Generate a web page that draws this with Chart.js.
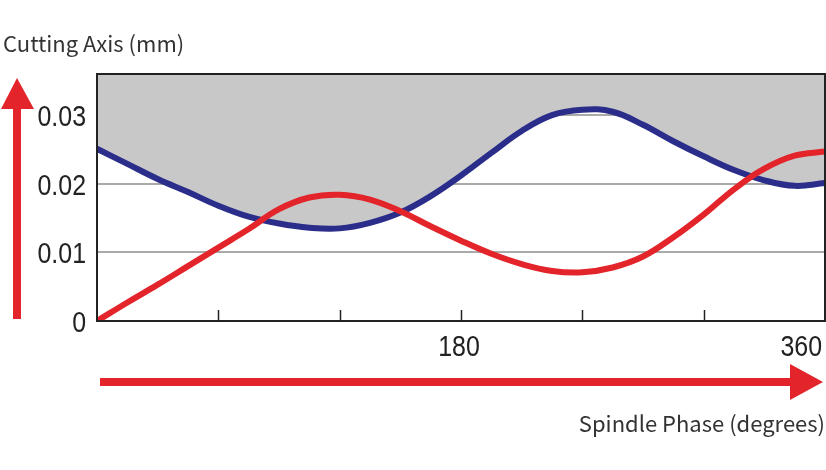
<!DOCTYPE html>
<html><head><meta charset="utf-8">
<script src="https://cdn.jsdelivr.net/npm/chart.js@4.4.1/dist/chart.umd.min.js"></script>
<style>html,body{margin:0;padding:0;background:#fff;}#wrap{width:826px;height:470px;position:relative;}</style>
</head><body><div id="wrap"><canvas id="c" width="826" height="470"></canvas></div>
<script>
const phaseDeg = [0,15,30,45,60,75,90,105,120,135,150,165,180,195,210,225,240,255,270,285,300,315,330,345,360];
const blueDepth = [0.0251,0.0229,0.0207,0.0188,0.0168,0.0152,0.0142,0.0136,0.0135,0.0143,0.0158,0.0182,0.0212,0.0245,0.0277,0.0300,0.0308,0.0305,0.0286,0.0262,0.0240,0.0220,0.0205,0.0197,0.0201];
const redDepth = [0,0.0027,0.0053,0.0080,0.0107,0.0134,0.0163,0.0180,0.0184,0.0177,0.0160,0.0138,0.0117,0.0098,0.0083,0.0073,0.0071,0.0078,0.0094,0.0122,0.0155,0.0192,0.0222,0.0241,0.0247];
const yTicks = [0,0.01,0.02,0.03];
const yTickLabels = ['0','0.01','0.02','0.03'];
const xTickMarks = [60,120,180,240,300];
const xTickLabels = [{v:180,t:'180'},{v:360,t:'360'}];
const yTitle = 'Cutting Axis (mm)';
const xTitle = 'Spindle Phase (degrees)';

const RED = '#e3242b', BLUE = '#2b2d8a';
const NUM_FONT = '29px "Liberation Sans", Arial, sans-serif';

function squeezedText(ctx, text, x, y, align){
  const sx = 0.86;
  const w = ctx.measureText(text).width * sx;
  let left = x;
  if (align === 'right') left = x - w; else if (align === 'center') left = x - w/2;
  ctx.save();
  ctx.translate(left, y);
  ctx.scale(sx, 1);
  ctx.textAlign = 'left';
  ctx.fillText(text, 0, 0);
  ctx.restore();
}

const deco = {
  id:'deco',
  afterDraw(chart){
    const ctx = chart.ctx, a = chart.chartArea, xs = chart.scales.x, ys = chart.scales.y;
    ctx.save();
    // frame
    ctx.strokeStyle = '#222'; ctx.lineWidth = 2;
    ctx.strokeRect(a.left, a.top, a.right - a.left, a.bottom - a.top);
    // inner ticks
    ctx.lineWidth = 1.5; ctx.strokeStyle = '#222';
    xTickMarks.forEach(v=>{
      const px = Math.round(xs.getPixelForValue(v)) + 0.5;
      ctx.beginPath(); ctx.moveTo(px, a.bottom); ctx.lineTo(px, a.bottom - 11); ctx.stroke();
    });
    // numeric labels
    ctx.fillStyle = '#222';
    ctx.font = NUM_FONT;
    ctx.textBaseline = 'alphabetic';
    xTickLabels.forEach((o,i)=>{
      const px = xs.getPixelForValue(o.v);
      if (i === xTickLabels.length - 1) squeezedText(ctx, o.t, px - 3, 356, 'right');
      else squeezedText(ctx, o.t, px - 2, 356, 'center');
    });
    yTicks.forEach((v,i)=>{
      const py = ys.getPixelForValue(v);
      squeezedText(ctx, yTickLabels[i], a.left - 11, py + 11, 'right');
    });
    // titles
    ctx.fillStyle = '#333';
    ctx.font = '22px "Noto Sans CJK SC", "Noto Sans", sans-serif';
    ctx.textAlign = 'left';
    ctx.fillText(yTitle, 3, 52);
    ctx.textAlign = 'right';
    ctx.fillText(xTitle, 825, 432);
    // arrows
    ctx.fillStyle = RED;
    ctx.fillRect(13, 105, 8, 214);
    ctx.beginPath(); ctx.moveTo(17, 78); ctx.lineTo(1, 109); ctx.lineTo(34, 109); ctx.closePath(); ctx.fill();
    ctx.fillRect(100, 378, 692, 8);
    ctx.beginPath(); ctx.moveTo(823, 382); ctx.lineTo(790, 364); ctx.lineTo(790, 400); ctx.closePath(); ctx.fill();
    ctx.restore();
  }
};

new Chart(document.getElementById('c'), {
  type:'line',
  data:{
    labels: phaseDeg,
    datasets:[
      {label:'red', data: phaseDeg.map((x,i)=>({x, y: redDepth[i]})), borderColor: RED, borderWidth: 6, pointRadius: 0, fill: false, tension: 0.4},
      {label:'blue', data: phaseDeg.map((x,i)=>({x, y: blueDepth[i]})), borderColor: BLUE, borderWidth: 6, pointRadius: 0, fill: 'end', backgroundColor: '#c8c8c8', tension: 0.4}
    ]
  },
  options:{
    responsive:false, animation:false, events:[],
    layout:{padding:{left:0, top:74, right:1, bottom:0}},
    plugins:{legend:{display:false}, tooltip:{enabled:false}},
    scales:{
      x:{type:'linear', min:0, max:360, ticks:{display:false}, grid:{display:false, drawTicks:false},
         border:{display:true, color:'#222', width:2},
         afterFit(s){ s.height = 149; }},
      y:{type:'linear', min:0, max:0.036, z:1,
         afterBuildTicks(s){ s.ticks = yTicks.map(v=>({value:v})); },
         ticks:{display:false},
         grid:{drawTicks:false, lineWidth:2, color(c){ return c.tick && c.tick.value === 0 ? 'rgba(0,0,0,0)' : '#a9a9a9'; }},
         border:{display:true, color:'#222', width:2},
         afterFit(s){ s.width = 97; }}
    }
  },
  plugins:[deco]
});
</script></body></html>
